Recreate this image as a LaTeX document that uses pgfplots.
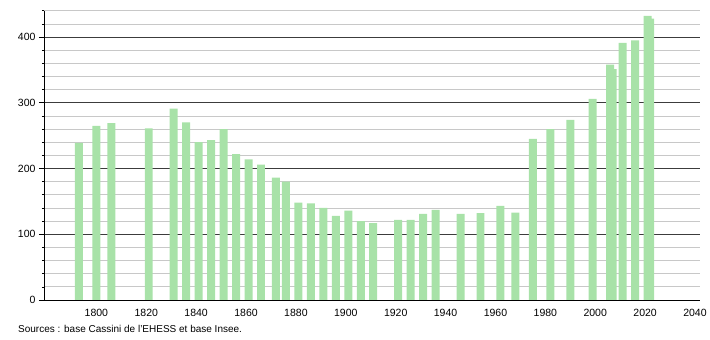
\documentclass[border=0pt]{standalone}
\usepackage{fontspec}
\setmainfont{Liberation Sans}
\usepackage{pgfplots}
\pgfplotsset{compat=1.18}
\definecolor{barg}{RGB}{168,226,168}
\definecolor{majg}{RGB}{60,60,60}
\definecolor{ming}{RGB}{200,200,200}
\begin{document}
\begin{tikzpicture}
\begin{axis}[
  scale only axis,
  width=656pt, height=289.3pt,
  xmin=1779, xmax=2042,
  ymin=0, ymax=440,
  axis x line*=bottom,
  axis y line*=left,
  axis line style={black, line width=0.8pt},
  xtick={1800,1820,...,2040},
  xtick style={draw=none},
  x tick label style={/pgf/number format/1000 sep={}, yshift=-1pt},
  ytick={0,100,...,400},
  minor ytick={20,40,...,440},
  ymajorgrids, yminorgrids,
  major grid style={majg, line width=0.7pt},
  minor grid style={ming, line width=0.7pt},
  major tick length=5pt,
  minor tick length=2pt,
  tick align=outside,
  tick style={black, line width=0.6pt},
  ticklabel style={font=\fontsize{10.5}{12}\selectfont},
  /pgf/number format/assume math mode=true,
  clip=false,
]
\addplot[ybar, bar width=3.2, fill=barg, draw=none] coordinates {
(1793,239) (1800,265) (1806,269) (1821,261) (1831,291) (1836,270)
(1841,240) (1846,243) (1851,260) (1856,222) (1861,214) (1866,206)
(1872,186) (1876,180) (1881,148) (1886,147) (1891,140) (1896,128)
(1901,136) (1906,120) (1911,117) (1921,122) (1926,122) (1931,131)
(1936,137) (1946,131) (1954,132) (1962,143) (1968,133) (1975,245)
(1982,260) (1990,274) (1999,306) (2006,358) (2007,351) (2011,391)
(2016,395) (2021,432) (2022,428)
};
\coordinate (ll) at (rel axis cs:0,0);
\end{axis}
\path (ll) ++(-44pt,-40pt) rectangle ++(710pt,340pt);
\node[anchor=base west, font=\fontsize{10}{12}\selectfont, inner sep=0pt] at ([xshift=-26pt,yshift=-33pt]ll) {Sources : base Cassini de l'EHESS et base Insee.};
\end{tikzpicture}
\end{document}
